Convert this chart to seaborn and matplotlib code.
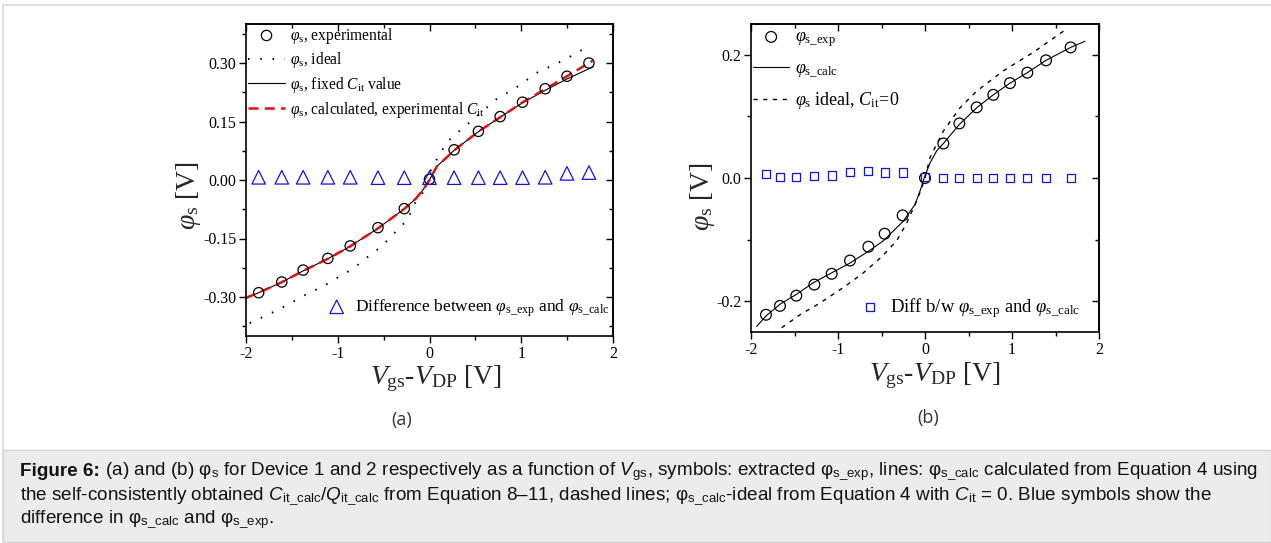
import matplotlib
matplotlib.use("Agg")
import matplotlib.pyplot as plt
import seaborn as sns
from matplotlib.ticker import MultipleLocator, FormatStrFormatter
from matplotlib.patches import Rectangle
from matplotlib.lines import Line2D

# ---------------- data: panel (a) ----------------
a_vx = [-1.862, -1.610, -1.377, -1.108, -0.864, -0.562, -0.275, 0.0,
        0.268, 0.533, 0.770, 1.014, 1.261, 1.498, 1.738]
a_exp = [-0.289, -0.2615, -0.231, -0.201, -0.169, -0.1222, -0.0735, 0.002,
         0.0774, 0.1247, 0.1625, 0.1995, 0.234, 0.266, 0.300]
a_diff = [0.007, 0.007, 0.007, 0.007, 0.007, 0.006, 0.006, 0.006,
          0.006, 0.006, 0.006, 0.006, 0.007, 0.017, 0.019]
a_fix_x = [-2.0, -1.862, -1.61, -1.377, -1.108, -0.864, -0.562, -0.275, -0.15,
           -0.07, 0.0, 0.08, 0.16, 0.268, 0.533, 0.77, 1.014, 1.261, 1.498, 1.78]
a_fix_y = [-0.303, -0.289, -0.262, -0.233, -0.202, -0.170, -0.124, -0.074, -0.048,
           -0.025, 0.0, 0.035, 0.052, 0.076, 0.124, 0.161, 0.198, 0.230, 0.259, 0.290]
a_calc_x = [-2.0, -1.862, -1.61, -1.377, -1.108, -0.864, -0.562, -0.275, -0.15,
            -0.07, 0.0, 0.08, 0.16, 0.268, 0.533, 0.77, 1.014, 1.261, 1.498, 1.78]
a_calc_y = [-0.302, -0.289, -0.262, -0.233, -0.202, -0.170, -0.124, -0.074, -0.048,
            -0.025, 0.0, 0.035, 0.052, 0.076, 0.124, 0.161, 0.199, 0.233, 0.266, 0.306]
a_ideal_x = [-1.96, -1.649, -1.357, -1.139, -0.957, -0.83, -0.667, -0.521, -0.412,
             -0.231, -0.18, -0.08, -0.02, 0.02, 0.06, 0.187, 0.26, 0.44, 0.733,
             0.95, 1.17, 1.46, 1.75]
a_ideal_y = [-0.367, -0.333, -0.295, -0.270, -0.244, -0.227, -0.196, -0.170, -0.143,
             -0.100, -0.066, -0.035, -0.010, 0.030, 0.045, 0.096, 0.113, 0.148, 0.208,
             0.238, 0.275, 0.307, 0.345]

# ---------------- data: panel (b) ----------------
b_vx = [-1.828, -1.667, -1.479, -1.272, -1.073, -0.862, -0.651, -0.464, -0.257, 0.0,
        0.211, 0.395, 0.594, 0.785, 0.977, 1.176, 1.391, 1.674]
b_exp = [-0.222, -0.2076, -0.191, -0.173, -0.1555, -0.134, -0.1116, -0.0905, -0.0607, 0.0,
         0.056, 0.0886, 0.1147, 0.135, 0.154, 0.171, 0.191, 0.212]
b_diff = [0.006, 0.002, 0.002, 0.003, 0.004, 0.010, 0.011, 0.009, 0.009, 0.001,
          0.0005, 0.0005, 0.0005, 0.0005, 0.0005, 0.0005, 0.0005, 0.0005]
b_calc_x = [-1.935, -1.828, -1.667, -1.479, -1.284, -1.073, -0.862, -0.651, -0.479,
            -0.249, -0.115, -0.057, 0.0, 0.06, 0.134, 0.211, 0.395, 0.594, 0.785,
            0.977, 1.176, 1.391, 1.674, 1.839]
b_calc_y = [-0.241, -0.224, -0.205, -0.189, -0.170, -0.154, -0.138, -0.119, -0.102,
            -0.070, -0.043, -0.021, 0.004, 0.025, 0.044, 0.056, 0.087, 0.114, 0.135,
            0.154, 0.171, 0.191, 0.212, 0.222]
b_ideal_x = [-1.647, -1.437, -1.207, -0.92, -0.709, -0.498, -0.326, -0.21, -0.095,
             -0.038, 0.0, 0.057, 0.21, 0.402, 0.594, 0.9, 1.245, 1.628]
b_ideal_y = [-0.243, -0.222, -0.203, -0.176, -0.154, -0.128, -0.102, -0.073, -0.037,
             -0.016, 0.0, 0.033, 0.076, 0.114, 0.141, 0.174, 0.204, 0.242]

# ---------------- text ----------------
a_labels = [r"$\varphi_{\mathrm{s}}$, experimental",
            r"$\varphi_{\mathrm{s}}$, ideal",
            r"$\varphi_{\mathrm{s}}$, fixed $C_{\mathrm{it}}$ value",
            r"$\varphi_{\mathrm{s}}$, calculated, experimental $C_{\mathrm{it}}$",
            r"Difference between $\varphi_{\mathrm{s\_exp}}$ and $\varphi_{\mathrm{s\_calc}}$"]
b_labels = [r"$\varphi_{\mathrm{s\_exp}}$",
            r"$\varphi_{\mathrm{s\_calc}}$",
            r"$\varphi_{\mathrm{s}}$ ideal, $C_{\mathrm{it}}\!=\!0$",
            r"Diff b/w $\varphi_{\mathrm{s\_exp}}$ and $\varphi_{\mathrm{s\_calc}}$"]
x_label = r"$V_{\mathrm{gs}}$-$V_{\mathrm{DP}}$ [V]"
y_label = r"$\varphi_{\mathrm{s}}$ [V]"
cap_bold = "Figure 6:"
cap_lines = [
    r" (a) and (b) φ$_{\mathsf{s}}$ for Device 1 and 2 respectively as a function of "
    r"$\mathcal{V}_{\mathsf{gs}}$, symbols: extracted φ$_{\mathsf{s\_exp}}$, lines: "
    r"φ$_{\mathsf{s\_calc}}$ calculated from Equation 4 using",
    r"the self-consistently obtained $\mathcal{C}_{\mathsf{it\_calc}}$/$\mathcal{Q}_{\mathsf{it\_calc}}$"
    r" from Equation 8–11, dashed lines; φ$_{\mathsf{s\_calc}}$-ideal from Equation 4 with "
    r"$\mathcal{C}_{\mathsf{it}}$ = 0. Blue symbols show the",
    r"difference in φ$_{\mathsf{s\_calc}}$ and φ$_{\mathsf{s\_exp}}$.",
]

BLUE = "#1414d8"
CAP_FS = 13.6

sns.set_style("ticks")
plt.rcParams.update({
    "font.family": ["Liberation Serif", "DejaVu Serif"],
    "mathtext.fontset": "custom",
    "mathtext.rm": "Liberation Serif",
    "mathtext.it": "Liberation Serif:italic",
    "mathtext.bf": "Liberation Serif:bold",
    "mathtext.sf": "Liberation Sans",
    "mathtext.cal": "Liberation Sans:italic",
    "axes.unicode_minus": False,
    "axes.edgecolor": "black",
    "xtick.color": "black",
    "ytick.color": "black",
    "text.color": "black",
})

W, H = 1271, 543
fig = plt.figure(figsize=(W / 100, H / 100), dpi=100)
fig.patch.set_facecolor("white")

# page frame and caption box
fig.add_artist(Line2D([3 / W, 1], [1 - 5 / H, 1 - 5 / H], color="#e0e0e0", lw=1.5))
fig.add_artist(Line2D([3 / W, 3 / W], [0, 1 - 5 / H], color="#dcdcdc", lw=1.2))
fig.add_artist(Rectangle((3 / W, 1 - 542 / H), 1 - 3 / W, (542 - 450) / H,
                         facecolor="#ececec", edgecolor="#d4d4d4", lw=1.0))

axA = fig.add_axes([246 / W, 1 - 336 / H, 367 / W, 312 / H])
axB = fig.add_axes([751 / W, 1 - 332 / H, 348 / W, 308 / H])


def style(ax, ylim, ymaj, ymin, fmt):
    ax.set_xlim(-2, 2)
    ax.set_ylim(*ylim)
    ax.xaxis.set_major_locator(MultipleLocator(1))
    ax.xaxis.set_minor_locator(MultipleLocator(0.5))
    ax.yaxis.set_major_locator(MultipleLocator(ymaj))
    ax.yaxis.set_minor_locator(MultipleLocator(ymin))
    ax.xaxis.set_major_formatter(FormatStrFormatter("%d"))
    ax.yaxis.set_major_formatter(FormatStrFormatter(fmt))
    ax.tick_params(which="both", direction="out", top=False, right=False,
                   labelsize=11.5, pad=2, width=1.0)
    ax.tick_params(which="major", length=5)
    ax.tick_params(which="minor", length=3)
    for s in ax.spines.values():
        s.set_visible(True)
        s.set_linewidth(1.2)
        s.set_color("black")
    sx = ax.secondary_xaxis("top")
    sx.xaxis.set_major_locator(MultipleLocator(1))
    sx.xaxis.set_minor_locator(MultipleLocator(0.5))
    sx.tick_params(which="both", direction="in", labeltop=False, width=1.0)
    sx.tick_params(which="major", length=5)
    sx.tick_params(which="minor", length=3)
    sy = ax.secondary_yaxis("right")
    sy.yaxis.set_major_locator(MultipleLocator(ymaj))
    sy.yaxis.set_minor_locator(MultipleLocator(ymin))
    sy.tick_params(which="both", direction="in", labelright=False, width=1.0)
    sy.tick_params(which="major", length=5)
    sy.tick_params(which="minor", length=3)
    for sa in (sx, sy):
        for s in sa.spines.values():
            s.set_linewidth(1.2)
    ax.set_xlabel(x_label, fontsize=20)
    ax.set_ylabel(y_label, fontsize=20)


# ---------------- panel (a) ----------------
sns.lineplot(x=a_ideal_x, y=a_ideal_y, ax=axA, estimator=None, sort=False,
             color="black", lw=1.4, ls=(0, (0.8, 5.5)), label=a_labels[1])
sns.lineplot(x=a_fix_x, y=a_fix_y, ax=axA, estimator=None, sort=False,
             color="black", lw=0.8, label=a_labels[2])
sns.lineplot(x=a_calc_x, y=a_calc_y, ax=axA, estimator=None, sort=False,
             color="#e01010", lw=1.8, ls=(0, (4, 2.5)), label=a_labels[3])
sns.scatterplot(x=a_vx, y=a_exp, ax=axA, marker="o", s=55, color="black",
                facecolors="none", edgecolors="black", linewidth=0.9,
                label=a_labels[0], zorder=5)
sns.scatterplot(x=a_vx, y=a_diff, ax=axA, marker="^", s=95, color=BLUE,
                facecolors="none", edgecolors=BLUE, linewidth=0.9,
                label=a_labels[4], zorder=5)
style(axA, (-0.40, 0.40), 0.15, 0.075, "%.2f")
axA.yaxis.set_label_coords(-0.117, 0.45)
axA.xaxis.set_label_coords(0.517, -0.087)

h, l = axA.get_legend_handles_labels()
d = dict(zip(l, h))
legA1 = axA.legend([d[t] for t in a_labels[:4]], a_labels[:4], loc="upper left",
                   bbox_to_anchor=(0.005, 0.995), frameon=False, fontsize=11.2,
                   handlelength=2.4, handletextpad=0.3, labelspacing=0.3,
                   borderpad=0, borderaxespad=0, scatterpoints=1)
axA.add_artist(legA1)
axA.legend([d[a_labels[4]]], [a_labels[4]], loc="center left",
           bbox_to_anchor=(0.221, 0.09), frameon=False, fontsize=12.5,
           handlelength=1.1, handletextpad=0.5, borderpad=0, borderaxespad=0,
           scatterpoints=1)

# ---------------- panel (b) ----------------
sns.lineplot(x=b_ideal_x, y=b_ideal_y, ax=axB, estimator=None, sort=False,
             color="black", lw=1.0, ls=(0, (3, 4)), label=b_labels[2])
sns.lineplot(x=b_calc_x, y=b_calc_y, ax=axB, estimator=None, sort=False,
             color="black", lw=0.8, label=b_labels[1])
sns.scatterplot(x=b_vx, y=b_exp, ax=axB, marker="o", s=60, color="black",
                facecolors="none", edgecolors="black", linewidth=0.9,
                label=b_labels[0], zorder=5)
sns.scatterplot(x=b_vx, y=b_diff, ax=axB, marker="s", s=34, color=BLUE,
                facecolors="none", edgecolors=BLUE, linewidth=0.9,
                label=b_labels[3], zorder=5)
style(axB, (-0.25, 0.25), 0.2, 0.1, "%.1f")
axB.yaxis.set_label_coords(-0.098, 0.44)
axB.xaxis.set_label_coords(0.53, -0.091)

h, l = axB.get_legend_handles_labels()
d = dict(zip(l, h))
legB1 = axB.legend([d[t] for t in b_labels[:3]], b_labels[:3], loc="upper left",
                   bbox_to_anchor=(0.006, 0.985), frameon=False, fontsize=13,
                   handlelength=2.0, handletextpad=0.3, labelspacing=0.6,
                   borderpad=0, borderaxespad=0, scatterpoints=1)
axB.add_artist(legB1)
axB.legend([d[b_labels[3]]], [b_labels[3]], loc="center left",
           bbox_to_anchor=(0.316, 0.078), frameon=False, fontsize=13.4,
           handlelength=0.95, handletextpad=0.6, borderpad=0, borderaxespad=0,
           scatterpoints=1)

# ---------------- panel tags and caption ----------------
fig.text(402 / W, 1 - 420 / H, "(a)", ha="center", va="center", fontsize=13,
         family=["Open Sans", "DejaVu Sans"], color="#333333")
fig.text(928 / W, 1 - 418 / H, "(b)", ha="center", va="center", fontsize=13,
         family=["Open Sans", "DejaVu Sans"], color="#333333")

ys = [472, 497, 520]
tb = fig.text(20 / W, 1 - ys[0] / H, cap_bold, ha="left", va="center", fontsize=CAP_FS,
              family=["Liberation Sans", "DejaVu Sans"], weight="bold", color="#111111")
fig.canvas.draw()
bb = tb.get_window_extent()
x_after = bb.x1 / W
fig.text(x_after, 1 - ys[0] / H, cap_lines[0], ha="left", va="center", fontsize=CAP_FS,
         family=["Liberation Sans", "DejaVu Sans"], color="#111111")
for yy, line in zip(ys[1:], cap_lines[1:]):
    fig.text(20 / W, 1 - yy / H, line, ha="left", va="center", fontsize=CAP_FS,
             family=["Liberation Sans", "DejaVu Sans"], color="#111111")

fig.savefig("out.png", dpi=100, facecolor="white")
